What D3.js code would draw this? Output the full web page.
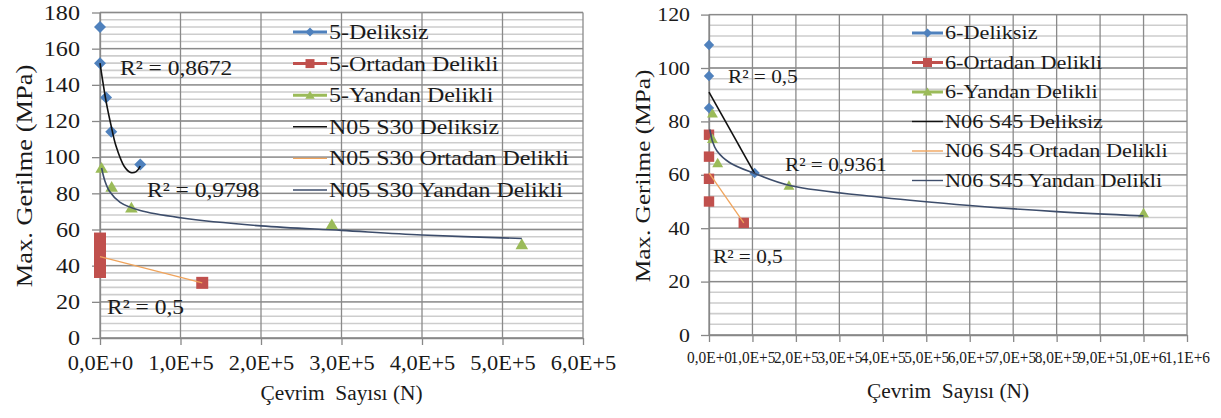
<!DOCTYPE html>
<html>
<head>
<meta charset="utf-8">
<script src="https://cdn.jsdelivr.net/npm/d3@7"></script>
<style>
  body { margin: 0; background: #fff; }
</style>
</head>
<body>
<svg id="chart" width="1221" height="418"></svg>
<script>
// ---- data ----
// chart 5 (left)
const leftXTicks = [0, 1e5, 2e5, 3e5, 4e5, 5e5, 6e5];
const leftYTicks = [0, 20, 40, 60, 80, 100, 120, 140, 160, 180];
const leftDeliksiz = [[0, 172], [0, 152], [7.5e3, 133], [1.4e4, 114], [5.0e4, 96]];
const leftOrtadan = [[0, 55], [0, 50], [0, 45], [0, 40], [0, 36.5], [1.27e5, 30.5]];
const leftYandan = [[2e3, 94], [1.45e4, 83.5], [3.9e4, 72], [2.88e5, 62.8], [5.24e5, 51.8]];
const leftTrendDeliksiz = [[0, 152], [7.5e3, 131], [1.4e4, 117], [2e4, 106], [3e4, 95], [3.8e4, 91.5], [4.5e4, 92], [5e4, 95]];
const leftTrendOrtadan = [[0, 45], [1.27e5, 30.5]];
const leftTrendYandan = [[2e3, 94], [6e3, 87], [1.2e4, 81], [2.5e4, 75], [5e4, 70.5], [1e5, 66.5], [2e5, 62], [3e5, 59.5], [4e5, 57], [5.24e5, 55]];
const leftLegend = ["5-Deliksiz", "5-Ortadan Delikli", "5-Yandan Delikli", "N05 S30 Deliksiz", "N05 S30 Ortadan Delikli", "N05 S30 Yandan Delikli"];
const leftR2 = ["R² = 0,8672", "R² = 0,9798", "R² = 0,5"];

// chart 6 (right)
const rightXTicks = [0, 1e5, 2e5, 3e5, 4e5, 5e5, 6e5, 7e5, 8e5, 9e5, 1e6, 1.1e6];
const rightYTicks = [0, 20, 40, 60, 80, 100, 120];
const rightDeliksiz = [[0, 108.6], [0, 97], [0, 85], [1.05e5, 60.7]];
const rightOrtadan = [[0, 75], [0, 66.8], [0, 58.5], [0, 50], [8e4, 42]];
const rightYandan = [[8e3, 83], [8e3, 73.5], [2e4, 64.4], [1.84e5, 56], [1e6, 45.7]];
const rightTrendDeliksiz = [[0, 91], [1.05e5, 60.5]];
const rightTrendOrtadan = [[0, 60.7], [8e4, 42]];
const rightTrendYandan = [[2e3, 77], [8e3, 72.5], [1.8e4, 69], [4.8e4, 64.5], [1.05e5, 60.5], [1.86e5, 56], [4e5, 51.5], [6e5, 48.5], [8e5, 46.2], [1e6, 44.6]];
const rightLegend = ["6-Deliksiz", "6-Ortadan Delikli", "6-Yandan Delikli", "N06 S45 Deliksiz", "N06 S45 Ortadan Delikli", "N06 S45 Yandan Delikli"];
const rightR2 = ["R² = 0,5", "R² = 0,9361", "R² = 0,5"];

const xTitle = "Çevrim  Sayısı (N)";
const yTitle = "Max. Gerilme (MPa)";

// colours (excel 2010 palette)
const BLUE = "#4f81bd", RED = "#c0504d", GREEN = "#9bbb59";
const TREND = ["#111111", "#f0a45c", "#3d4d6b"];
const FONT = "Liberation Serif";
const INK = "#1a1a1a";

const svg = d3.select("#chart");
svg.append("rect").attr("width", 1221).attr("height", 418).attr("fill", "#fff");

//excel style number format 0,0E+0
function fmtE(v) {
    if (v == 0) return "0,0E+0";
    const e = Math.floor(Math.log10(v) + 1e-9);
    const m = v / Math.pow(10, e);
    return m.toFixed(1).replace(".", ",") + "E+" + e;
}

function markerPath(type, r) {
    if (type == "diamond") return `M0,${-r}L${r},0L0,${r}L${-r},0Z`;
    if (type == "square") return `M${-r},${-r}H${r}V${r}H${-r}Z`;
    return `M0,${-r}L${r * 1.05},${r * 0.8}L${-r * 1.05},${r * 0.8}Z`;
}

// widen glyphs horizontally around the text's own x (source picture is stretched)
function stretch(sel, k, width) {
    sel.each(function () {
        const t = d3.select(this);
        const kk = width ? width / this.getComputedTextLength() : k;
        const x0 = +t.attr("x") || 0;
        const prev = t.attr("transform") || "";
        t.attr("transform", `${prev} translate(${x0 * (1 - kk)},0) scale(${kk},1)`);
    });
}

function drawChart(cfg) {
    const g = svg.append("g");
    const x = d3.scaleLinear().domain([0, cfg.xMax]).range([cfg.left, cfg.right]);
    const y = d3.scaleLinear().domain([0, cfg.yMax]).range([cfg.bottom, cfg.top]);

    //minor grid every 4 MPa
    g.append("g").selectAll("line")
        .data(d3.range(0, cfg.yMax + 0.01, 4))
        .join("line")
        .attr("x1", cfg.left).attr("x2", cfg.right)
        .attr("y1", d => y(d)).attr("y2", d => y(d))
        .attr("stroke", "#cdcdcd").attr("stroke-width", 1.6);

    // major grid
    g.append("g").selectAll("line")
        .data(cfg.yTicks)
        .join("line")
        .attr("x1", cfg.left).attr("x2", cfg.right)
        .attr("y1", d => y(d)).attr("y2", d => y(d))
        .attr("stroke", "#8a8a8a").attr("stroke-width", 1.3);
    g.append("g").selectAll("line")
        .data(cfg.xTicks)
        .join("line")
        .attr("x1", d => x(d)).attr("x2", d => x(d))
        .attr("y1", cfg.top).attr("y2", cfg.bottom)
        .attr("stroke", "#8a8a8a").attr("stroke-width", 1.3);

    // axes
    const ax = g.append("g").attr("transform", `translate(0,${cfg.bottom})`)
        .call(d3.axisBottom(x).tickValues(cfg.xTicks).tickFormat(fmtE).tickSize(7).tickPadding(cfg.xPad).tickSizeOuter(0));
    const ay = g.append("g").attr("transform", `translate(${cfg.left},0)`)
        .call(d3.axisLeft(y).tickValues(cfg.yTicks).tickFormat(d3.format("d")).tickSize(8).tickPadding(cfg.yPad).tickSizeOuter(0));
    [ax, ay].forEach(a => {
        a.attr("font-family", FONT);
        a.select(".domain").attr("stroke", "#888").attr("stroke-width", 1.3);
        a.selectAll(".tick line").attr("stroke", "#888").attr("stroke-width", 1.3);
        a.selectAll("text").attr("fill", INK).attr("font-family", FONT);
    });
    ax.selectAll("text").attr("font-size", cfg.xFont);
    ay.selectAll("text").attr("font-size", cfg.yFont);
    stretch(ax.selectAll("text"), 1.12, cfg.xLabelWidth);
    stretch(ay.selectAll("text"), 1.15);

    // markers
    const series = [
        { data: cfg.deliksiz, color: BLUE, type: "diamond" },
        { data: cfg.ortadan, color: RED, type: "square" },
        { data: cfg.yandan, color: GREEN, type: "triangle" }
    ];
    series.forEach(s => {
        g.append("g").selectAll("path")
            .data(s.data)
            .join("path")
            .attr("d", markerPath(s.type, cfg.mr))
            .attr("transform", d => `translate(${x(d[0])},${y(d[1])})`)
            .attr("fill", s.color);
    });

    // trend lines
    const line = d3.line().x(d => x(d[0])).y(d => y(d[1])).curve(d3.curveCatmullRom);
    [cfg.trendDeliksiz, cfg.trendOrtadan, cfg.trendYandan].forEach((t, i) => {
        g.append("path").attr("d", line(t))
            .attr("fill", "none")
            .attr("stroke", TREND[i])
            .attr("stroke-width", i == 1 ? 1.3 : 1.6);
    });

    // R2 labels
    const r2 = g.append("g").selectAll("text")
        .data(cfg.r2)
        .join("text")
        .attr("x", (d, i) => cfg.r2Pos[i][0])
        .attr("y", (d, i) => cfg.r2Pos[i][1])
        .attr("font-family", FONT)
        .attr("font-size", cfg.r2Font)
        .attr("fill", INK)
        .text(d => d);
    stretch(r2, 1.12);

    // legend
    const lg = g.append("g");
    cfg.legend.forEach((name, i) => {
        const yy = cfg.legY + i * cfg.legDy;
        const isSeries = i < 3;
        const col = isSeries ? series[i].color : TREND[i - 3];
        lg.append("line")
            .attr("x1", cfg.legX).attr("x2", cfg.legX + cfg.legLen)
            .attr("y1", yy).attr("y2", yy)
            .attr("stroke", col).attr("stroke-width", isSeries ? 3 : 1.4);
        if (isSeries) {
            lg.append("path").attr("d", markerPath(series[i].type, 4.5))
                .attr("transform", `translate(${cfg.legX + cfg.legLen / 2},${yy})`)
                .attr("fill", col);
        }
        lg.append("text")
            .attr("x", cfg.legX + cfg.legLen + 2)
            .attr("y", yy + cfg.legFont * 0.33)
            .attr("font-family", FONT)
            .attr("font-size", cfg.legFont)
            .attr("fill", INK)
            .text(name);
    });
    stretch(lg.selectAll("text"), 1.14);

    // axis titles
    const xt = g.append("text")
        .attr("x", (cfg.left + cfg.right) / 2).attr("y", cfg.xTitleY)
        .attr("text-anchor", "middle")
        .attr("font-family", FONT)
        .attr("font-size", cfg.titleFont).attr("fill", INK)
        .style("white-space", "pre")
        .text(xTitle);
    const yt = g.append("text")
        .attr("transform", `translate(${cfg.yTitleX},176) rotate(-90)`)
        .attr("text-anchor", "middle")
        .attr("font-family", FONT)
        .attr("font-size", cfg.yTitleFont).attr("fill", INK)
        .text(yTitle);
    stretch(xt, 1.07);
    stretch(yt, 1.15);
}

drawChart({
    left: 100, right: 583, top: 12.5, bottom: 338,
    xMax: 6e5, yMax: 180, xTicks: leftXTicks, yTicks: leftYTicks,
    xPad: 11, yPad: 12, xFont: 20, yFont: 21, mr: 6,
    deliksiz: leftDeliksiz, ortadan: leftOrtadan, yandan: leftYandan,
    trendDeliksiz: leftTrendDeliksiz, trendOrtadan: leftTrendOrtadan, trendYandan: leftTrendYandan,
    r2: leftR2, r2Pos: [[120, 75], [147, 197], [107, 314]], r2Font: 21,
    legend: leftLegend, legX: 293, legY: 32, legDy: 31.6, legLen: 34, legFont: 21,
    xTitleY: 400, yTitleX: 32, titleFont: 20, yTitleFont: 23
});

drawChart({
    left: 709, right: 1187, top: 14.6, bottom: 335,
    xMax: 1.1e6, yMax: 120, xTicks: rightXTicks, yTicks: rightYTicks,
    xPad: 10, yPad: 11, xFont: 16, yFont: 19, mr: 5.2, xLabelWidth: 45,
    deliksiz: rightDeliksiz, ortadan: rightOrtadan, yandan: rightYandan,
    trendDeliksiz: rightTrendDeliksiz, trendOrtadan: rightTrendOrtadan, trendYandan: rightTrendYandan,
    r2: rightR2, r2Pos: [[728, 83], [785, 171], [713, 263]], r2Font: 19,
    legend: rightLegend, legX: 912, legY: 33, legDy: 29.5, legLen: 31, legFont: 19.5,
    xTitleY: 398, yTitleX: 650, titleFont: 20, yTitleFont: 22
});
</script>
</body>
</html>
